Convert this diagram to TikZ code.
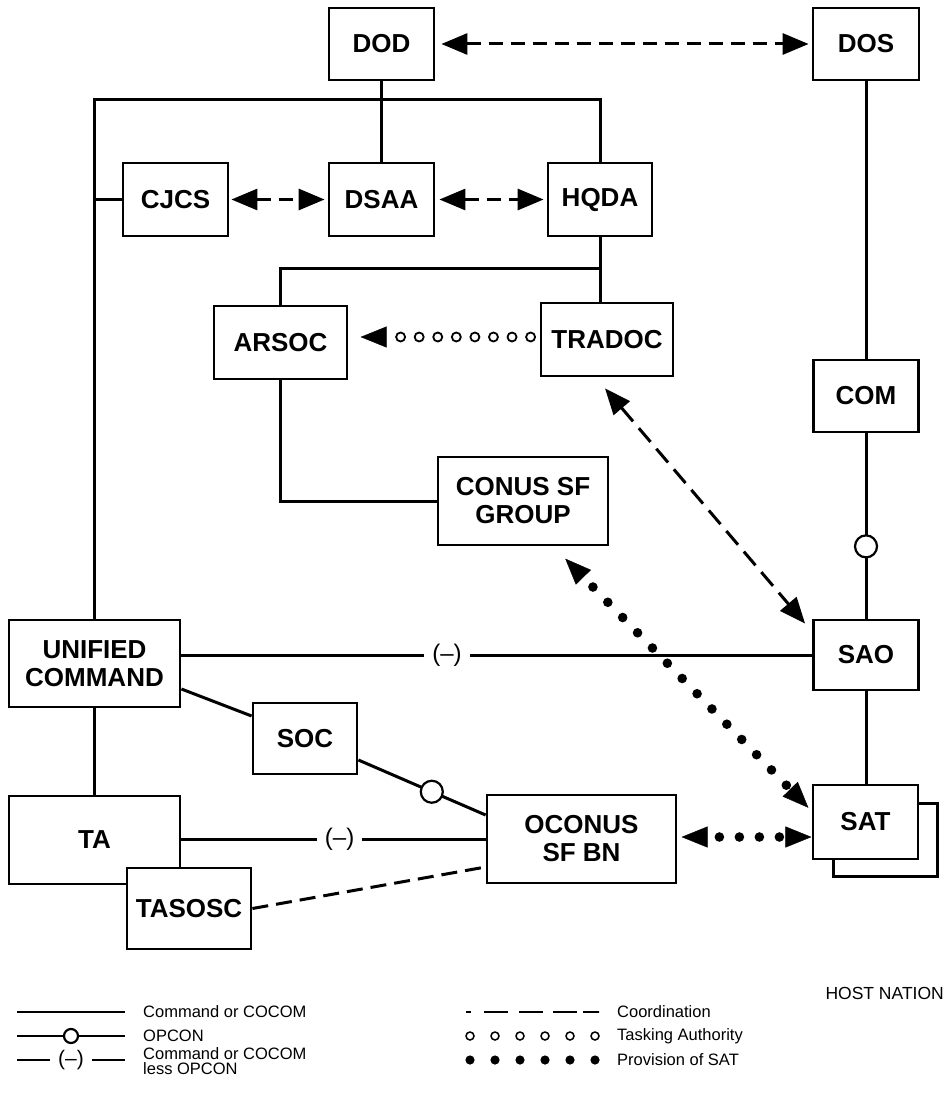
\documentclass[tikz,border=0pt]{standalone}
\usepackage{fontspec}
\setmainfont{Liberation Sans}
\usetikzlibrary{arrows.meta,calc,decorations.markings}
\begin{document}
\begin{tikzpicture}[x=1pt,y=-1pt,
  box/.style={draw,line width=2.8pt,fill=white,align=center,inner sep=0pt,
    font=\bfseries\fontsize{26}{28}\selectfont},
  cmd/.style={line width=3pt},
  coord/.style={line width=3pt,dash pattern=on 14pt off 8pt,
    {Triangle[length=26pt,width=21pt]}-{Triangle[length=26pt,width=21pt]}},
  opc/.style={circle,draw,fill=white,line width=2.2pt,minimum size=22pt,inner sep=0pt},
  less/.style={fill=white,inner xsep=8pt,inner ysep=0pt,font=\fontsize{24}{24}\selectfont},
  tasking/.style={decoration={markings,
    mark=between positions 9pt and 140pt step 18.57pt with {\draw[line width=1.8pt,fill=white] (0,0) circle[radius=4.5pt];},
    mark=at position 0.999 with {\arrow{Triangle[length=26pt,width=21pt]}}},
    postaction={decorate}},
  prov/.style n args={3}{decoration={markings,
    mark=between positions #1 and #2 step #3 with {\fill (0,0) circle[radius=4.8pt];},
    mark=at position 0.001 with {\arrowreversed{Triangle[length=26pt,width=21pt]}},
    mark=at position 0.999 with {\arrow{Triangle[length=26pt,width=21pt]}}},
    postaction={decorate}},
  lgline/.style={line width=2.4pt},
  lg/.style={font=\fontsize{16.5}{15}\selectfont,anchor=west,align=left,inner sep=0pt}
]
\useasboundingbox (0,0) rectangle (948,1115);

% boxes
\node[box,minimum width=105pt,minimum height=72pt] (dod) at (381.5,44) {DOD};
\node[box,minimum width=106pt,minimum height=72pt] (dos) at (866,44) {DOS};
\node[box,minimum width=105pt,minimum height=73pt] (cjcs) at (175.5,199.5) {CJCS};
\node[box,minimum width=105pt,minimum height=73pt] (dsaa) at (381.5,199.5) {DSAA};
\node[box,minimum width=104pt,minimum height=73pt] (hqda) at (600,199.5) {HQDA};
\node[box,minimum width=133pt,minimum height=73pt] (arsoc) at (280.5,342.5) {ARSOC};
\node[box,minimum width=132pt,minimum height=73pt] (tradoc) at (607,339.5) {TRADOC};
\node[box,minimum width=105pt,minimum height=72pt] (com) at (866,396) {COM};
\node[box,minimum width=170pt,minimum height=88pt] (conus) at (523,501) {CONUS SF\\GROUP};
\node[box,minimum width=105pt,minimum height=70pt] (sao) at (866,655) {SAO};
\node[box,minimum width=171pt,minimum height=87pt] (uc) at (94.5,663.5) {UNIFIED\\COMMAND};
\node[box,minimum width=104pt,minimum height=71pt] (soc) at (305,738.5) {SOC};
\node[box,minimum width=189pt,minimum height=88pt] (oconus) at (581.5,839) {OCONUS\\SF BN};
\node[box,minimum width=171pt,minimum height=88pt] (ta) at (94.5,840) {TA};
\node[box,minimum width=124pt,minimum height=81pt] (tasosc) at (189,908.5) {TASOSC};
\node[box,minimum width=104pt,minimum height=73pt] (satb) at (885.5,840) {};
\node[box,minimum width=105pt,minimum height=74pt] (sat) at (865.5,822) {SAT};

% command lines
\coordinate (topj) at (381.5,100);
\coordinate (midj) at (600,268);
\draw[cmd] (dod) -- (dsaa);
\draw[cmd] (uc.north) |- (topj) -| (hqda.north);
\draw[cmd] (cjcs.west) -- (cjcs.west -| uc.north);
\draw[cmd] (hqda.south) -- (hqda.south |- tradoc.north);
\draw[cmd] (arsoc.north) |- (midj);
\draw[cmd] (arsoc.south) |- (conus.west);
\draw[cmd] (dos) -- (com);
\draw[cmd] (com) -- node[opc,pos=0.61]{} (sao);
\draw[cmd] (sao.south) -- (sao.south |- sat.north);
\draw[cmd] (sao.west) -- node[less,pos=0.579]{(–)} (sao.west -| uc.east);
\draw[cmd] ($(uc.east)+(0,25.5)$) -- ($(soc.west)+(0,-22.5)$);
\draw[cmd] ($(soc.east)+(0,21.5)$) -- node[opc,pos=0.577]{} ($(oconus.west)+(0,-24)$);
\draw[cmd] (uc) -- (ta);
\draw[cmd] (oconus.west -| ta.east) -- node[less,pos=0.52]{(–)} (oconus.west);
\draw[cmd,dash pattern=on 16pt off 8pt] (tasosc.east) -- ($(oconus.west)+(0,28)$);

% coordination
\draw[coord,shorten <=6pt,shorten >=3pt] (dod.east) -- (dos.west);
\draw[coord,shorten <=2pt,shorten >=3pt] (cjcs.east) -- (dsaa.west);
\draw[coord,shorten <=4pt,shorten >=3pt] (dsaa.east) -- (hqda.west);
\draw[coord,dash pattern=on 18pt off 9pt] ($(tradoc.south)+(-2,11)$) -- ($(sao.north west)+(-7,5)$);

% tasking authority
\path[tasking] ($(tradoc.west)+(0,-2.5)$) -- ($(arsoc.east)+(12,-5.5)$);

% provision of SAT
\path[prov={40pt}{318pt}{21.3pt}] ($(conus.south)+(42,12)$) -- ($(sat.west)+(-3,-14)$);
\path[prov={38pt}{99pt}{20pt}] ($(oconus.east)+(4,-2)$) -- ($(sat.west)+(0,15)$);

% host nation
\node[font=\fontsize{17.5}{19}\selectfont,anchor=east,inner sep=0pt] (host) at (944,993) {HOST NATION};

% legend
\draw[lgline] (17,1012) -- (125,1012);
\node[lg] (l1) at (143,1012) {Command or COCOM};
\draw[lgline] (17,1036) -- node[circle,draw,fill=white,line width=2.2pt,minimum size=14pt,inner sep=0pt]{} (125,1036);
\node[lg] (l2) at (143,1036) {OPCON};
\draw[lgline] (17,1060) -- node[fill=white,inner xsep=8pt,inner ysep=0pt,font=\fontsize{21}{21}\selectfont]{(–)} (125,1060);
\node[lg] (l3) at (143,1061) {Command or COCOM\\less OPCON};

\draw[lgline,dash pattern=on 5pt off 13pt on 24pt off 11pt on 24pt off 10pt on 24pt off 6pt on 16pt off 0pt] (466,1012) -- (599,1012);
\node[lg] (l4) at (617,1012) {Coordination};
\foreach \i in {0,...,5} \draw[line width=1.5pt] (470+25*\i,1036) circle[radius=4pt];
\node[lg] (l5) at (617,1036) {Tasking Authority};
\foreach \i in {0,...,5} \fill (470+25*\i,1060) circle[radius=4.6pt];
\node[lg] (l6) at (617,1060) {Provision of SAT};
\end{tikzpicture}
\end{document}
